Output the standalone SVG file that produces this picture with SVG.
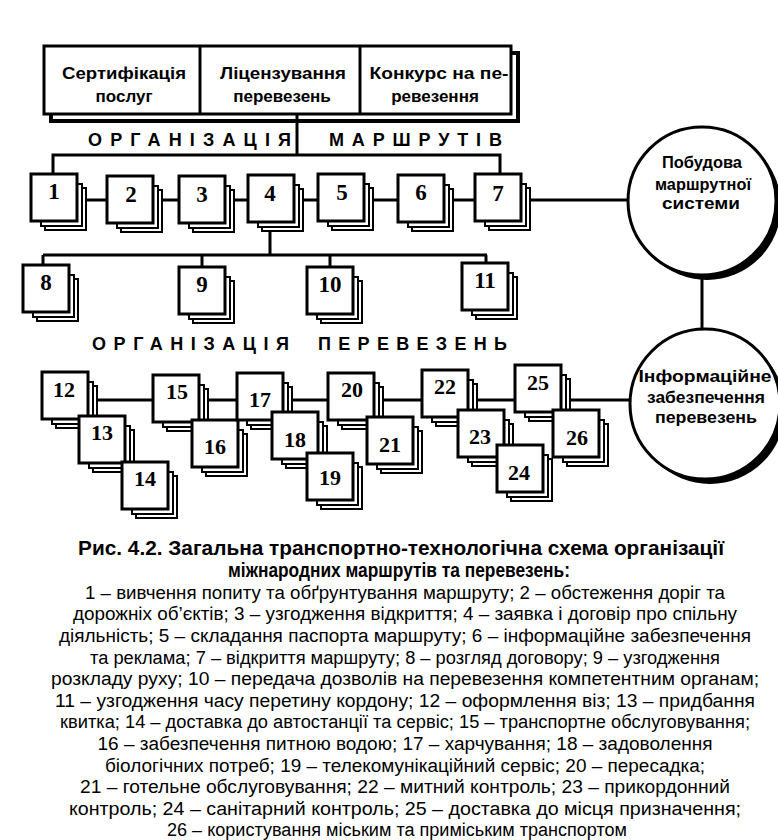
<svg xmlns="http://www.w3.org/2000/svg" xmlns:xlink="http://www.w3.org/1999/xlink" width="778" height="840" viewBox="0 0 778 840">
<style>
.ln{stroke:#000;stroke-width:3;fill:none}
.fr{fill:#fff;stroke:#000;stroke-width:3}
.bk{fill:#fff;stroke:#000;stroke-width:2}
.num{font-family:"Liberation Serif","Times New Roman",serif;font-weight:bold;font-size:23px;text-anchor:middle;fill:#000}
.n3{font-size:22px}
.hd{font-family:"Liberation Sans",Arial,sans-serif;font-weight:bold;font-size:17px;text-anchor:middle;fill:#000}
.sp{font-family:"Liberation Sans",Arial,sans-serif;font-weight:bold;font-size:18px;fill:#000}
.ci{font-family:"Liberation Sans",Arial,sans-serif;font-weight:bold;font-size:16.5px;text-anchor:middle;fill:#000}
.cap{font-family:"Liberation Sans",Arial,sans-serif;font-size:18px;text-anchor:middle;fill:#000}
.tt{font-family:"Liberation Sans",Arial,sans-serif;font-weight:bold;font-size:20px;text-anchor:middle;fill:#000}
</style>
<defs>
<g id="stk">
<rect class="bk" x="14" y="14" width="41" height="42"/>
<rect class="bk" x="10" y="10" width="41" height="42"/>
<rect class="fr" x="0" y="0" width="46" height="47"/>
</g>
</defs>

<g id="connectors">
<line class="ln" x1="297" y1="114" x2="297" y2="155"/>
<polyline class="ln" points="53,176 53,155 500,155 500,176"/>
<line class="ln" x1="60" y1="200" x2="628" y2="200"/>
<line class="ln" x1="270" y1="222" x2="270" y2="255"/>
<line class="ln" x1="43" y1="255" x2="487" y2="255"/>
<line class="ln" x1="43" y1="255" x2="43" y2="267"/>
<line class="ln" x1="202" y1="255" x2="202" y2="269"/>
<line class="ln" x1="330" y1="255" x2="330" y2="269"/>
<line class="ln" x1="486" y1="255" x2="486" y2="265"/>
<line class="ln" x1="702" y1="272" x2="702" y2="331"/>
<line class="ln" x1="70" y1="400" x2="631" y2="400"/>
</g>

<g id="top-box">
<rect x="51" y="53" width="467" height="68" fill="none" stroke="#000" stroke-width="4"/>
<rect class="fr" x="44" y="46" width="467" height="68"/>
<line class="ln" x1="200" y1="46" x2="200" y2="114"/>
<line class="ln" x1="360" y1="46" x2="360" y2="114"/>
<text class="hd" x="124" y="79" textLength="124" lengthAdjust="spacingAndGlyphs">Сертифікація</text>
<text class="hd" x="124" y="102">послуг</text>
<text class="hd" x="283" y="79" textLength="126" lengthAdjust="spacingAndGlyphs">Ліцензування</text>
<text class="hd" x="282" y="102">перевезень</text>
<text class="hd" x="439" y="79" textLength="139" lengthAdjust="spacingAndGlyphs">Конкурс на пе-</text>
<text class="hd" x="435" y="102">ревезення</text>
</g>

<g id="title-routes">
<text class="sp" x="88" y="146" textLength="203" lengthAdjust="spacing">ОРГАНІЗАЦІЯ</text>
<text class="sp" x="329" y="146" textLength="173" lengthAdjust="spacing">МАРШРУТІВ</text>
</g>

<g id="n1"><use xlink:href="#stk" x="31" y="174"/><text class="num" x="54" y="199">1</text></g>
<g id="n2"><use xlink:href="#stk" x="107" y="176"/><text class="num" x="131" y="202">2</text></g>
<g id="n3"><use xlink:href="#stk" x="179" y="176"/><text class="num" x="202" y="202">3</text></g>
<g id="n4"><use xlink:href="#stk" x="248" y="175"/><text class="num" x="270" y="201">4</text></g>
<g id="n5"><use xlink:href="#stk" x="318" y="174"/><text class="num" x="342" y="200">5</text></g>
<g id="n6"><use xlink:href="#stk" x="398" y="175"/><text class="num" x="421" y="200">6</text></g>
<g id="n7"><use xlink:href="#stk" x="475" y="174"/><text class="num" x="498" y="201">7</text></g>

<g id="n8"><use xlink:href="#stk" x="23" y="265"/><text class="num" x="46" y="290">8</text></g>
<g id="n9"><use xlink:href="#stk" x="179" y="267"/><text class="num" x="202" y="292">9</text></g>
<g id="n10"><use xlink:href="#stk" x="307" y="267"/><text class="num" x="330" y="292">10</text></g>
<g id="n11"><use xlink:href="#stk" x="462" y="263"/><text class="num" x="485" y="288">11</text></g>

<g id="c1">
<circle cx="707" cy="206" r="74" fill="#000"/>
<circle cx="702" cy="201" r="74" fill="#fff" stroke="#000" stroke-width="3"/>
<text class="ci" x="702" y="168" textLength="80" lengthAdjust="spacingAndGlyphs">Побудова</text>
<text class="ci" x="703" y="190" textLength="96" lengthAdjust="spacingAndGlyphs">маршрутної</text>
<text class="ci" x="701" y="209" textLength="78" lengthAdjust="spacingAndGlyphs">системи</text>
</g>

<g id="title-transport">
<text class="sp" x="92" y="350" textLength="197" lengthAdjust="spacing">ОРГАНІЗАЦІЯ</text>
<text class="sp" x="318" y="350" textLength="189" lengthAdjust="spacing">ПЕРЕВЕЗЕНЬ</text>
</g>

<g id="n12"><use xlink:href="#stk" x="42" y="372"/><text class="num n3" x="64" y="397">12</text></g>
<g id="n13"><use xlink:href="#stk" x="79" y="416"/><text class="num n3" x="102" y="440">13</text></g>
<g id="n14"><use xlink:href="#stk" x="122" y="462"/><text class="num n3" x="145" y="486">14</text></g>
<g id="n15"><use xlink:href="#stk" x="153" y="375"/><text class="num n3" x="177" y="399">15</text></g>
<g id="n16"><use xlink:href="#stk" x="192" y="420"/><text class="num n3" x="215" y="454">16</text></g>
<g id="n17"><use xlink:href="#stk" x="237" y="373"/><text class="num n3" x="260" y="407">17</text></g>
<g id="n18"><use xlink:href="#stk" x="272" y="412"/><text class="num n3" x="295" y="447">18</text></g>
<g id="n19"><use xlink:href="#stk" x="307" y="453"/><text class="num n3" x="330" y="485">19</text></g>
<g id="n20"><use xlink:href="#stk" x="328" y="373"/><text class="num n3" x="352" y="397">20</text></g>
<g id="n21"><use xlink:href="#stk" x="367" y="417"/><text class="num n3" x="390" y="452">21</text></g>
<g id="n22"><use xlink:href="#stk" x="422" y="370"/><text class="num n3" x="445" y="394">22</text></g>
<g id="n23"><use xlink:href="#stk" x="458" y="410"/><text class="num n3" x="480" y="444">23</text></g>
<g id="n24"><use xlink:href="#stk" x="497" y="445"/><text class="num n3" x="519" y="480">24</text></g>
<g id="n25"><use xlink:href="#stk" x="515" y="365"/><text class="num n3" x="538" y="390">25</text></g>
<g id="n26"><use xlink:href="#stk" x="553" y="410"/><text class="num n3" x="577" y="445">26</text></g>

<g id="c2">
<circle cx="710" cy="409" r="75" fill="#000"/>
<circle cx="705" cy="404" r="75" fill="#fff" stroke="#000" stroke-width="3"/>
<text class="ci" x="705" y="382" textLength="133" lengthAdjust="spacingAndGlyphs">Інформаційне</text>
<text class="ci" x="706" y="403" textLength="118" lengthAdjust="spacingAndGlyphs">забезпечення</text>
<text class="ci" x="706" y="423" textLength="102" lengthAdjust="spacingAndGlyphs">перевезень</text>
</g>

<g id="caption">
<text class="tt" x="401" y="555" textLength="646" lengthAdjust="spacingAndGlyphs">Рис. 4.2. Загальна транспортно-технологічна схема організації</text>
<text class="tt" x="399" y="577" textLength="342" lengthAdjust="spacingAndGlyphs">міжнародних маршрутів та перевезень:</text>
<text class="cap" x="405" y="599" textLength="640" lengthAdjust="spacingAndGlyphs">1 – вивчення попиту та обґрунтування маршруту; 2 – обстеження доріг та</text>
<text class="cap" x="405" y="620" textLength="664" lengthAdjust="spacingAndGlyphs">дорожніх об’єктів; 3 – узгодження відкриття; 4 – заявка і договір про спільну</text>
<text class="cap" x="405" y="642" textLength="692" lengthAdjust="spacingAndGlyphs">діяльність; 5 – складання паспорта маршруту; 6 – інформаційне забезпечення</text>
<text class="cap" x="405" y="664" textLength="630" lengthAdjust="spacingAndGlyphs">та реклама; 7 – відкриття маршруту; 8 – розгляд договору; 9 – узгодження</text>
<text class="cap" x="405" y="685" textLength="708" lengthAdjust="spacingAndGlyphs">розкладу руху; 10 – передача дозволів на перевезення компетентним органам;</text>
<text class="cap" x="405" y="707" textLength="700" lengthAdjust="spacingAndGlyphs">11 – узгодження часу перетину кордону; 12 – оформлення віз; 13 – придбання</text>
<text class="cap" x="405" y="728" textLength="690" lengthAdjust="spacingAndGlyphs">квитка; 14 – доставка до автостанції та сервіс; 15 – транспортне обслуговування;</text>
<text class="cap" x="405" y="750" textLength="615" lengthAdjust="spacingAndGlyphs">16 – забезпечення питною водою; 17 – харчування; 18 – задоволення</text>
<text class="cap" x="405" y="772" textLength="600" lengthAdjust="spacingAndGlyphs">біологічних потреб; 19 – телекомунікаційний сервіс; 20 – пересадка;</text>
<text class="cap" x="405" y="793" textLength="650" lengthAdjust="spacingAndGlyphs">21 – готельне обслуговування; 22 – митний контроль; 23 – прикордонний</text>
<text class="cap" x="405" y="815" textLength="672" lengthAdjust="spacingAndGlyphs">контроль; 24 – санітарний контроль; 25 – доставка до місця призначення;</text>
<text class="cap" x="397" y="836" textLength="460" lengthAdjust="spacingAndGlyphs">26 – користування міським та приміським транспортом</text>
</g>
</svg>
